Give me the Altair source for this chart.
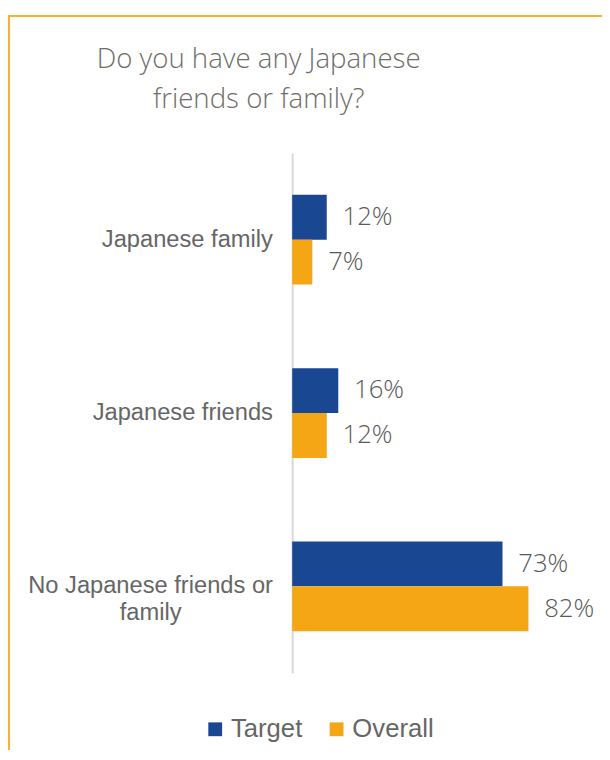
import altair as alt
import pandas as pd

# ---- data ----
categories = ["Japanese family", "Japanese friends", "No Japanese friends or family"]
series = ["Target", "Overall"]
target = [12, 16, 73]
overall = [7, 12, 82]
colors = ["#1a4791", "#f5a614"]
title_lines = ["Do you have any Japanese", "friends or family?"]

rows = []
for c, t, o in zip(categories, target, overall):
    rows.append({"category": c, "series": series[0], "value": t})
    rows.append({"category": c, "series": series[1], "value": o})
df = pd.DataFrame(rows)

label_expr = (
    f"datum.value == '{categories[2]}' ? ['No Japanese friends or', 'family'] : datum.value"
)
is_long = f"datum.value == '{categories[2]}'"

TXT = "#666666"
SOFT = "Open Sans"

base = alt.Chart(df).transform_calculate(label="datum.value + '%'")

y = alt.Y(
    "category:N",
    sort=categories,
    scale=alt.Scale(paddingInner=0, paddingOuter=0),
    axis=alt.Axis(
        title=None,
        labelExpr=label_expr,
        labelFont="Liberation Sans",
        labelFontSize=24,
        labelColor=TXT,
        labelAlign={"condition": {"test": is_long, "value": "center"}, "value": "right"},
        labelPadding={"condition": {"test": is_long, "value": 144}, "value": 20},
        ticks=False,
        tickSize=0,
        domainColor="#d9d9d9",
        domainWidth=2,
        labelLineHeight=27,
        labelLimit=400,
    ),
)
yoff = alt.YOffset("series:N", sort=series, scale=alt.Scale(paddingInner=0, paddingOuter=0.93))
x = alt.X("value:Q", scale=alt.Scale(domain=[0, 100]), axis=None)

bars = base.mark_bar().encode(
    x=x,
    y=y,
    yOffset=yoff,
    color=alt.Color(
        "series:N",
        sort=series,
        scale=alt.Scale(domain=series, range=colors),
        legend=alt.Legend(
            title=None,
            orient="none",
            legendX=-91,
            legendY=571,
            padding=0,
            direction="horizontal",
            symbolType="square",
            symbolSize=196,
            symbolStrokeWidth=0,
            labelFont="Liberation Sans",
            labelFontSize=26,
            labelColor=TXT,
            labelOffset=3,
            columnPadding=21,
        ),
    ),
)

labels = base.mark_text(
    align="left", baseline="middle", dx=16, font=SOFT, fontWeight=300, fontSize=26, color="#595959"
).encode(x=x, y=y, yOffset=yoff, text="label:N")

border = alt.Chart(pd.DataFrame({"k": [0]})).mark_rect(
    fill="transparent", stroke="#f7b12f", strokeWidth=2
).encode(x=alt.value(-287), x2=alt.value(330), y=alt.value(-139), y2=alt.value(620))

chart = (
    alt.layer(border, bars, labels)
    .properties(
        width=292,
        height=527,
        autosize=alt.AutoSizeParams(type="none"),
        padding={"left": 288, "top": 142, "right": 22, "bottom": 73},
        title=alt.TitleParams(
            text=title_lines,
            anchor="middle",
            frame="group",
            font=SOFT,
            fontWeight=300,
            fontSize=28,
            color="#6e6e68",
            lineHeight=40,
            dx=-180,
            dy=100,
            offset=0,
        ),
    )
    .configure_view(stroke=None)
)

chart.save("out.html", embed_options={"renderer": "svg", "actions": False})
